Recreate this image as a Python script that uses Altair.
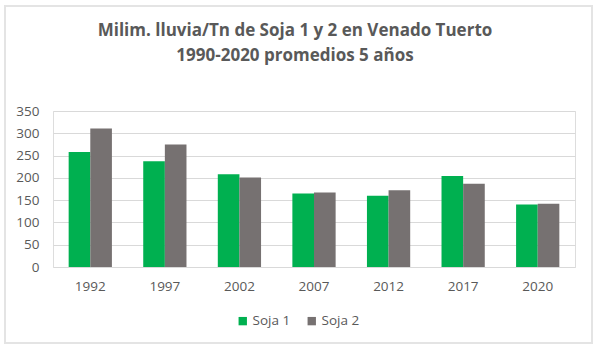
import altair as alt
import pandas as pd

years = ["1992", "1997", "2002", "2007", "2012", "2017", "2020"]
soja1 = [258, 237, 208, 165, 160, 204, 140]
soja2 = [311, 275, 201, 167, 172, 187, 142]
series = ["Soja 1", "Soja 2"]
colors = ["#00B050", "#767171"]

rows = []
for y, a, b in zip(years, soja1, soja2):
    rows.append({"year": y, "serie": "Soja 1", "value": a})
    rows.append({"year": y, "serie": "Soja 2", "value": b})
df = pd.DataFrame(rows)

FONT = "Open Sans"
TXT = "#595959"

bars = alt.Chart(df).mark_bar().encode(
    x=alt.X("year:N", sort=years, title=None,
            scale=alt.Scale(paddingInner=0.42, paddingOuter=0.21),
            axis=alt.Axis(labelAngle=0, ticks=False, domain=False, labelPadding=12,
                          labelFontSize=13.5, labelColor=TXT, labelFont=FONT)),
    xOffset=alt.XOffset("serie:N", sort=series, scale=alt.Scale(paddingInner=0, paddingOuter=0)),
    y=alt.Y("value:Q", title=None,
            scale=alt.Scale(domain=[0, 350], nice=False),
            axis=alt.Axis(values=list(range(0, 351, 50)), ticks=False, domain=False,
                          labelPadding=14, labelFontSize=13.5, labelColor=TXT, labelFont=FONT,
                          gridColor="#D9D9D9", gridWidth=1)),
    color=alt.Color("serie:N", sort=series,
                    scale=alt.Scale(domain=series, range=colors),
                    legend=alt.Legend(title=None, orient="none", direction="horizontal",
                                      legendX=183, legendY=203, symbolType="square",
                                      symbolSize=70, symbolStrokeWidth=0,
                                      labelFontSize=13.5, labelColor=TXT, labelFont=FONT,
                                      columnPadding=14, labelOffset=3)),
)

border = alt.Chart(df).mark_rect(fill=None, stroke="#E3E3E3", strokeWidth=1.5).encode(
    x=alt.value(-48), x2=alt.value(539), y=alt.value(-105), y2=alt.value(232)
)

chart = alt.layer(border, bars).properties(
    width=522, height=156,
    title=alt.TitleParams(
        ["Milim. lluvia/Tn de Soja 1 y 2 en Venado Tuerto", "1990-2020 promedios 5 años"],
        fontSize=17, font=FONT, fontWeight="bold", color=TXT, anchor="middle",
        lineHeight=25, offset=-60, dx=-19),
    autosize=alt.AutoSizeParams(type="none"),
    padding={"left": 53, "top": 111, "right": 25, "bottom": 89},
).configure_view(stroke=None).configure(background="white")

chart.save("out.html", embed_options={"renderer": "svg", "actions": False})
